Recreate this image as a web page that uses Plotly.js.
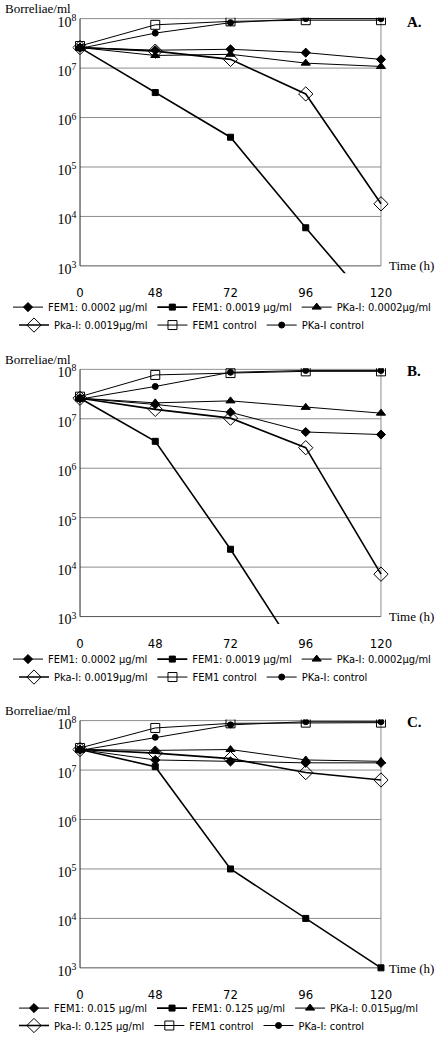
<!DOCTYPE html>
<html>
<head>
<meta charset="utf-8">
<script src="https://cdn.plot.ly/plotly-3.0.1.min.js"></script>
<style>html,body{margin:0;padding:0;background:#fff;}#chart{width:436px;height:1040px;}</style>
</head>
<body>
<div id="chart"></div>
<script>
// ---- data ----
const times = ['0', '48', '72', '96', '120'];

// Panel A
const namesA = ['FEM1: 0.0002 μg/ml', 'FEM1: 0.0019 μg/ml', 'PKa-I: 0.0002μg/ml', 'Pka-I: 0.0019μg/ml', 'FEM1 control', 'PKa-I control'];
const femLowA  = [2.6e7, 2.3e7, 2.4e7, 2.05e7, 1.5e7];
const femHighA = [2.6e7, 3.2e6, 4.0e5, 5.9e3, 1.0e2];
const pkaLowA  = [2.6e7, 1.8e7, 1.9e7, 1.26e7, 1.08e7];
const pkaHighA = [2.6e7, 2.2e7, 1.5e7, 3.0e6, 1.8e4];
const femCtrlA = [2.8e7, 7.5e7, 8.8e7, 9.3e7, 9.3e7];
const pkaCtrlA = [2.5e7, 5.1e7, 8.3e7, 1.0e8, 1.0e8];

// Panel B
const namesB = ['FEM1: 0.0002 μg/ml', 'FEM1: 0.0019 μg/ml', 'PKa-I: 0.0002μg/ml', 'Pka-I: 0.0019μg/ml', 'FEM1 control', 'PKa-I: control'];
const femLowB  = [2.6e7, 1.95e7, 1.35e7, 5.4e6, 4.8e6];
const femHighB = [2.6e7, 3.5e6, 2.3e4, 1.0e2, null];
const pkaLowB  = [2.6e7, 2.1e7, 2.3e7, 1.7e7, 1.3e7];
const pkaHighB = [2.6e7, 1.55e7, 1.03e7, 2.6e6, 7.2e3];
const femCtrlB = [2.8e7, 7.7e7, 8.4e7, 9.1e7, 9.1e7];
const pkaCtrlB = [2.5e7, 4.5e7, 8.7e7, 9.5e7, 9.5e7];

// Panel C
const namesC = ['FEM1: 0.015 μg/ml', 'FEM1: 0.125 μg/ml', 'PKa-I: 0.015μg/ml', 'Pka-I: 0.125 μg/ml', 'FEM1 control', 'PKa-I: control'];
const femLowC  = [2.6e7, 1.6e7, 1.5e7, 1.4e7, 1.4e7];
const femHighC = [2.6e7, 1.17e7, 1.0e5, 1.0e4, 1.0e3];
const pkaLowC  = [2.6e7, 2.5e7, 2.6e7, 1.6e7, 1.5e7];
const pkaHighC = [2.6e7, 2.2e7, 1.7e7, 8.9e6, 6.3e6];
const femCtrlC = [2.8e7, 7.1e7, 8.8e7, 9.1e7, 9.1e7];
const pkaCtrlC = [2.5e7, 4.6e7, 8.2e7, 9.5e7, 9.5e7];

const decadeVals = [1e3, 1e4, 1e5, 1e6, 1e7, 1e8];
const decadeText = ['10<sup>3</sup>', '10<sup>4</sup>', '10<sup>5</sup>', '10<sup>6</sup>', '10<sup>7</sup>', '10<sup>8</sup>'];
const panelLetters = ['A.', 'B.', 'C.'];

// ---- styling ----
const W = 436, H = 1040;
const SERIF = 'Liberation Serif, Times New Roman, serif';
const NARROW = 'DejaVu Sans Condensed, Liberation Sans Narrow, Arial Narrow, Liberation Sans, Arial, sans-serif';
const styles = [
  {symbol: 'diamond', size: 7, width: 1},
  {symbol: 'square', size: 6, width: 1.6},
  {symbol: 'triangle-up', size: 8, width: 1},
  {symbol: 'diamond-open', size: 11, width: 1.6},
  {symbol: 'square-open', size: 9, width: 1},
  {symbol: 'circle', size: 6, width: 1}
];
const panels = [
  {names: namesA, series: [femLowA, femHighA, pkaLowA, pkaHighA, femCtrlA, pkaCtrlA], top: 17.7, bottom: 274.1, ytitle: 9, letterY: 21.7, timeY: 266, leg: [308, 326]},
  {names: namesB, series: [femLowB, femHighB, pkaLowB, pkaHighB, femCtrlB, pkaCtrlB], top: 369.4, bottom: 625.8, ytitle: 360.7, letterY: 371.7, timeY: 618.3, leg: [661, 679]},
  {names: namesC, series: [femLowC, femHighC, pkaLowC, pkaHighC, femCtrlC, pkaCtrlC], top: 721.7, bottom: 978.1, ytitle: 712.3, letterY: 724.3, timeY: 971, leg: [1011, 1028.5]}
];

const PAD = 0.1; // category padding each side
const xLeftPx = 80 - 7.5, xRightPx = 381 + 7.5;
const dom0 = PAD / (4 + 2 * PAD), dom1 = (4 + PAD) / (4 + 2 * PAD);

const data = [];
const layout = {
  width: W, height: H, autosize: false,
  margin: {l: 0, r: 0, t: 0, b: 0},
  paper_bgcolor: '#fff', plot_bgcolor: '#fff',
  font: {family: SERIF, color: '#000'},
  shapes: [], annotations: []
};

panels.forEach((p, k) => {
  const sfx = k === 0 ? '' : String(k + 1);
  const xa = 'x' + sfx, ya = 'y' + sfx;
  const legA = k === 0 ? 'legend' : 'legend' + (2 * k + 1);
  const legB = 'legend' + (2 * k + 2);
  p.series.forEach((vals, i) => {
    const st = styles[i];
    data.push({
      type: 'scatter', mode: 'lines+markers',
      x: times, y: vals, name: p.names[i],
      xaxis: xa, yaxis: ya,
      legend: i < 3 ? legA : legB,
      line: {color: '#000', width: st.width},
      marker: {symbol: st.symbol, size: st.size, color: '#000', line: {color: '#000', width: 1}},
      cliponaxis: true, connectgaps: false, hoverinfo: 'x+y+name'
    });
  });
  layout['xaxis' + sfx] = {
    type: 'category', categoryorder: 'array', categoryarray: times,
    range: [-PAD, 4 + PAD], domain: [xLeftPx / W, xRightPx / W],
    anchor: ya, showgrid: false, zeroline: false, showline: false, ticks: '',
    tickfont: {family: NARROW, size: 13, color: '#000'}, ticklabelstandoff: 10, fixedrange: true
  };
  layout['yaxis' + sfx] = {
    type: 'log', range: [2.85, 8.02], domain: [1 - p.bottom / H, 1 - p.top / H],
    anchor: xa, showgrid: false, zeroline: false, showline: false, ticks: '',
    tickvals: decadeVals, ticktext: decadeText,
    tickfont: {family: SERIF, size: 14, color: '#000'}, ticklabelstandoff: -5, ticklabelshift: 3, fixedrange: true
  };
  // gridlines
  decadeVals.slice(1).forEach(v => {
    layout.shapes.push({type: 'line', xref: xa + ' domain', yref: ya, x0: dom0, x1: dom1, y0: v, y1: v, line: {color: '#8c8c8c', width: 1}, layer: 'below'});
  });
  // bottom axis line at 10^3
  layout.shapes.push({type: 'line', xref: xa + ' domain', yref: ya, x0: dom0, x1: dom1, y0: 1e3, y1: 1e3, line: {color: '#555', width: 1}, layer: 'below'});
  // left axis
  layout.shapes.push({type: 'line', xref: xa + ' domain', yref: ya, x0: dom0, x1: dom0, y0: 1e3, y1: 1e8, line: {color: '#222', width: 1}, layer: 'below'});
  // right border
  layout.shapes.push({type: 'line', xref: xa + ' domain', yref: ya, x0: dom1, x1: dom1, y0: 1e3, y1: 1e8, line: {color: '#8c8c8c', width: 1}, layer: 'below'});
  // small category tick marks below axis
  times.forEach((t, i) => {
    const fx = (i + PAD) / (4 + 2 * PAD);
    layout.shapes.push({type: 'line', xref: xa + ' domain', yref: ya, ysizemode: 'pixel', yanchor: 1e3, x0: fx, x1: fx, y0: 0, y1: -4, line: {color: '#555', width: 1}, layer: 'below'});
  });
  // texts
  layout.annotations.push({text: 'Borreliae/ml', xref: 'paper', yref: 'paper', x: 3 / W, y: 1 - p.ytitle / H, xanchor: 'left', yanchor: 'middle', showarrow: false, font: {family: SERIF, size: 13, color: '#000'}});
  layout.annotations.push({text: '<b>' + panelLetters[k] + '</b>', xref: 'paper', yref: 'paper', x: 405 / W, y: 1 - p.letterY / H, xanchor: 'left', yanchor: 'middle', showarrow: false, font: {family: SERIF, size: 15, color: '#000'}});
  layout.annotations.push({text: 'Time (h)', xref: 'paper', yref: 'paper', x: 387 / W, y: 1 - p.timeY / H, xanchor: 'left', yanchor: 'middle', showarrow: false, font: {family: SERIF, size: 13, color: '#000'}});
  // legends (two rows)
  [legA, legB].forEach((ln, r) => {
    layout[ln] = {
      orientation: 'h', x: 14 / W, xanchor: 'left', y: 1 - p.leg[r] / H, yanchor: 'middle',
      font: {family: NARROW, size: 11, color: '#000'}, bgcolor: 'rgba(0,0,0,0)', borderwidth: 0,
      itemwidth: 30, traceorder: 'normal', itemclick: false, itemdoubleclick: false
    };
  });
});
layout.showlegend = true;

Plotly.newPlot('chart', data, layout, {staticPlot: true, displayModeBar: false});
</script>
</body>
</html>
